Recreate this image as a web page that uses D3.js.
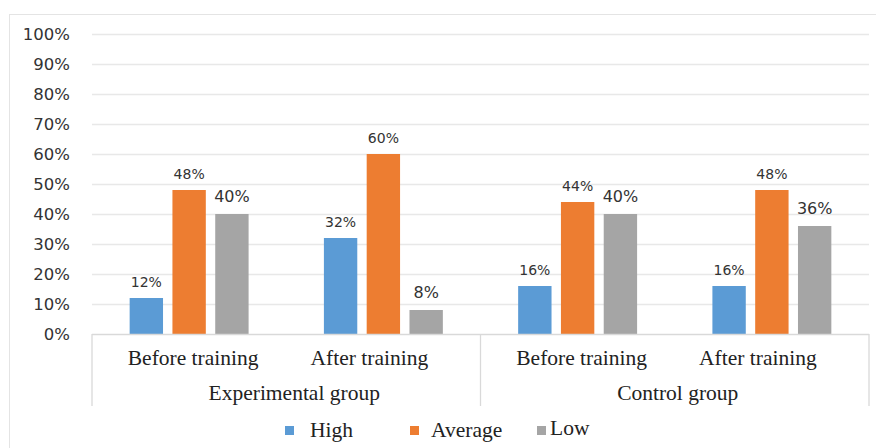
<!DOCTYPE html>
<html><head><meta charset="utf-8">
<script src="https://cdn.jsdelivr.net/npm/d3@7"></script>
<style>body{margin:0;background:#fff}svg{display:block}</style>
</head><body><svg id="c" width="876" height="448"></svg>
<script>
const categories = ["Before training","After training","Before training","After training"];
const groups = [{name:"Experimental group", n:2},{name:"Control group", n:2}];
const seriesNames = ["High","Average","Low"];
const high = [12,32,16,16];
const average = [48,60,44,48];
const low = [40,8,40,36];
const yTicks = [0,10,20,30,40,50,60,70,80,90,100];
const colors = ["#5B9BD5","#ED7D31","#A5A5A5"];
const values = [high, average, low];
const labelBig = [false,false,true];

const svg = d3.select("#c");
svg.append("rect").attr("x",9.5).attr("y",14.5).attr("width",880).attr("height",450)
  .attr("fill","#fff").attr("stroke","#e4e4e4");

const x0 = d3.scaleBand().domain(d3.range(categories.length)).range([92,869]);
const y = d3.scaleLinear().domain([0,100]).range([334,34]);
const x1 = d3.scaleBand().domain(d3.range(3)).range([0,x0.bandwidth()]).paddingInner(0.22).paddingOuter(0.88);

svg.append("g").selectAll("line").data(yTicks.slice(1)).join("line")
  .attr("x1",92).attr("x2",869).attr("y1",d=>Math.round(y(d))+0.5).attr("y2",d=>Math.round(y(d))+0.5)
  .attr("stroke","#e8e8e8").attr("stroke-width",1.5);

const yAxis = d3.axisLeft(y).tickValues(yTicks).tickFormat(d=>d+"%").tickSize(0).tickPadding(22);
const ga = svg.append("g").attr("transform","translate(92,0)").call(yAxis);
ga.select(".domain").remove();
ga.selectAll("text").attr("font-family","'DejaVu Sans', sans-serif").attr("font-size",16.5).attr("fill","#333").attr("dy","0.36em");

const gBars = svg.append("g");
values.forEach((vals,s)=>{
  gBars.selectAll(null).data(vals).join("rect")
    .attr("x",(d,i)=>x0(i)+x1(s)).attr("width",x1.bandwidth())
    .attr("y",d=>y(d)).attr("height",d=>y(0)-y(d)).attr("fill",colors[s]);
  gBars.selectAll(null).data(vals).join("text")
    .attr("x",(d,i)=>x0(i)+x1(s)+x1.bandwidth()/2)
    .attr("y",d=>y(d)-(labelBig[s]?12:11))
    .attr("text-anchor","middle")
    .attr("font-family","'DejaVu Sans', sans-serif")
    .attr("font-size",labelBig[s]?16:14).attr("fill","#333")
    .text(d=>d+"%");
});

svg.append("line").attr("x1",92).attr("x2",869).attr("y1",334.5).attr("y2",334.5).attr("stroke","#d9d9d9").attr("stroke-width",1.3);

let idx=0; const seps=[0];
groups.forEach(g=>{idx+=g.n; seps.push(idx);});
const sepX = d=>d<categories.length?x0(d):x0.range()[1];
svg.append("g").selectAll("line").data(seps).join("line")
  .attr("x1",sepX).attr("x2",sepX)
  .attr("y1",334).attr("y2",406).attr("stroke","#d9d9d9").attr("stroke-width",1.3);

const serif = "'Liberation Serif', serif";
svg.append("g").selectAll("text").data(categories).join("text")
  .attr("x",(d,i)=>x0(i)+x0.bandwidth()/2 + (i%2===1?-14:4)).attr("y",365)
  .attr("text-anchor","middle").attr("font-family",serif).attr("font-size",21.5).attr("fill","#222")
  .text(d=>d);
let start=0;
groups.forEach((g,gi)=>{
  const cx = (x0(start) + x0(start+g.n-1)+x0.bandwidth())/2 + (gi===0?8:3);
  svg.append("text").attr("x",cx).attr("y",400).attr("text-anchor","middle")
    .attr("font-family",serif).attr("font-size",21.5).attr("fill","#222").text(g.name);
  start+=g.n;
});

const legX = [285,410,537];
const legTX = [310,431,550];
seriesNames.forEach((n,i)=>{
  svg.append("rect").attr("x",legX[i]).attr("y",426).attr("width",9).attr("height",9).attr("fill",colors[i]);
  svg.append("text").attr("x",legTX[i]).attr("y",i===2?435:437).attr("font-family",serif)
    .attr("font-size",21.5).attr("fill","#222").text(n);
});
</script></body></html>
